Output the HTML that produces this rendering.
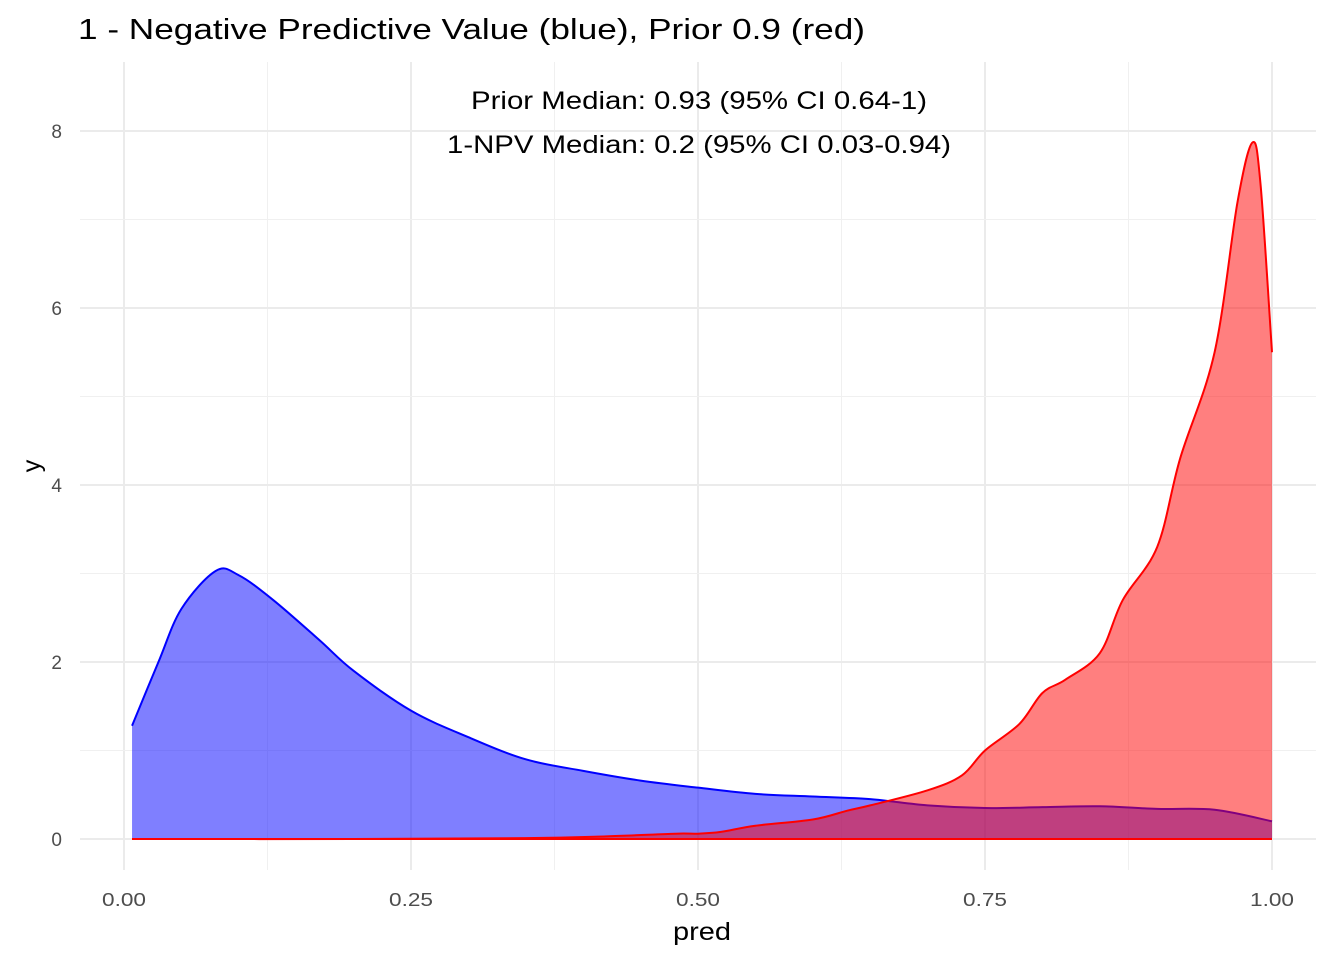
<!DOCTYPE html>
<html><head><meta charset="utf-8"><style>
body{margin:0;background:#fff;font-family:"Liberation Sans",sans-serif}
</style></head><body>
<svg id="c" width="1344" height="960" xmlns="http://www.w3.org/2000/svg">
<text x="78" y="39" font-size="29" fill="#000" textLength="787" lengthAdjust="spacingAndGlyphs">1 - Negative Predictive Value (blue), Prior 0.9 (red)</text>
<g id="grid"></g><g id="marks"></g><g id="axes"></g>
<text x="471" y="109" font-size="25" textLength="456" lengthAdjust="spacingAndGlyphs">Prior Median: 0.93 (95% CI 0.64-1)</text>
<text x="447" y="153" font-size="25" textLength="504" lengthAdjust="spacingAndGlyphs">1-NPV Median: 0.2 (95% CI 0.03-0.94)</text>
<text x="673" y="940" font-size="25" textLength="58" lengthAdjust="spacingAndGlyphs">pred</text>
<text transform="translate(40,466) rotate(-90)" font-size="25" text-anchor="middle">y</text>
</svg>
<script>
const xTicks=[0,0.25,0.5,0.75,1];
const xTickLabels=["0.00","0.25","0.50","0.75","1.00"];
const yTicks=[0,2,4,6,8];
const yTickLabels=["0","2","4","6","8"];
const blueX=[0.007,0.03,0.05,0.08,0.1,0.13,0.17,0.2,0.25,0.3,0.35,0.4,0.45,0.5,0.55,0.6,0.65,0.7,0.75,0.8,0.85,0.9,0.95,1.0];
const blueY=[1.28,2.0,2.6,3.03,2.98,2.7,2.25,1.9,1.45,1.15,0.9,0.77,0.66,0.58,0.51,0.48,0.45,0.38,0.35,0.36,0.37,0.34,0.33,0.2];
const redX=[0.007,0.2,0.35,0.42,0.48,0.5,0.52,0.55,0.6,0.63,0.65,0.7,0.73,0.75,0.78,0.8,0.82,0.85,0.87,0.9,0.92,0.95,0.97,0.983,0.99,1.0];
const redY=[0,0,0.01,0.03,0.06,0.06,0.08,0.15,0.22,0.32,0.38,0.55,0.72,1.0,1.3,1.65,1.8,2.1,2.7,3.3,4.3,5.5,7.2,7.87,7.4,5.5];
const NS="http://www.w3.org/2000/svg";
const sx=v=>124+v*1148, sy=v=>839-v*88.5;
function mk(t,a,p){const e=document.createElementNS(NS,t);for(const k in a)e.setAttribute(k,a[k]);p.appendChild(e);return e;}
const grid=document.getElementById('grid'),marks=document.getElementById('marks'),axes=document.getElementById('axes');
for(let i=0;i<xTicks.length;i++){
 const l=mk('line',{x1:sx(xTicks[i]),x2:sx(xTicks[i]),y1:62,y2:870,stroke:'#ebebeb','stroke-width':2},grid);
 
 
 if(i<xTicks.length-1){const m=mk('line',{x1:sx((xTicks[i]+xTicks[i+1])/2),x2:sx((xTicks[i]+xTicks[i+1])/2),y1:62,y2:870,stroke:'#f0f0f0','stroke-width':1},grid);
 
 }
 const t=mk('text',{x:sx(xTicks[i])-22,y:906,'font-size':18,fill:'#4d4d4d',textLength:44,lengthAdjust:'spacingAndGlyphs'},axes);t.textContent=xTickLabels[i];
 
 
}
for(let i=0;i<yTicks.length;i++){
 const l=mk('line',{x1:80,x2:1316,y1:sy(yTicks[i]),y2:sy(yTicks[i]),stroke:'#ebebeb','stroke-width':2},grid);
 
 
 if(i<yTicks.length-1){const m=mk('line',{x1:80,x2:1316,y1:sy(yTicks[i]+1),y2:sy(yTicks[i]+1),stroke:'#f0f0f0','stroke-width':1},grid);
 
 }
 const t=mk('text',{x:62,y:sy(yTicks[i])+7,'font-size':19,fill:'#4d4d4d','text-anchor':'end'},axes);t.textContent=yTickLabels[i];
 
 
}
function smooth(X,Y){let d='M'+sx(X[0])+','+sy(Y[0]);
 for(let i=0;i<X.length-1;i++){const p0=[sx(X[Math.max(0,i-1)]),sy(Y[Math.max(0,i-1)])],p1=[sx(X[i]),sy(Y[i])],p2=[sx(X[i+1]),sy(Y[i+1])],p3=[sx(X[Math.min(X.length-1,i+2)]),sy(Y[Math.min(X.length-1,i+2)])];
 d+=' C'+(p1[0]+(p2[0]-p0[0])/6)+','+(p1[1]+(p2[1]-p0[1])/6)+' '+(p2[0]-(p3[0]-p1[0])/6)+','+(p2[1]-(p3[1]-p1[1])/6)+' '+p2[0]+','+p2[1];}
 return d;}
function series(X,Y,col,name){
 const line=smooth(X,Y);
 const a=mk('path',{d:line+' L'+sx(X[X.length-1])+','+sy(0)+' L'+sx(X[0])+','+sy(0)+'Z',fill:col,'fill-opacity':0.5},marks);
 
 
 const l=mk('path',{d:line,fill:'none',stroke:col,'stroke-width':2},marks);
 
 
 const b=mk('line',{x1:sx(X[0]),x2:sx(X[X.length-1]),y1:sy(0),y2:sy(0),stroke:col,'stroke-width':2},marks);
 
 
}
series(blueX,blueY,'#0000ff','npv');
series(redX,redY,'#ff0000','prior');
</script>
</body></html>
